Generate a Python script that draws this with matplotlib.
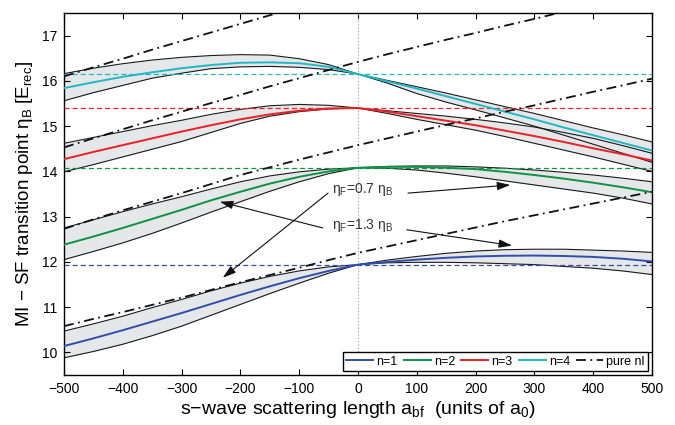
import numpy as np
import matplotlib
matplotlib.use("Agg")
import matplotlib.pyplot as plt

plt.rcParams['font.family'] = ['Liberation Sans', 'DejaVu Sans']
plt.rcParams['mathtext.fontset'] = 'custom'
plt.rcParams['mathtext.rm'] = 'Liberation Sans'
plt.rcParams['mathtext.it'] = 'Liberation Sans:italic'
plt.rcParams['mathtext.bf'] = 'Liberation Sans:bold'

# ---------------- data ----------------
a_bf = [-500, -450, -400, -350, -300, -250, -200, -150, -100, -50, 0,
        50, 100, 150, 200, 250, 300, 350, 400, 450, 500]

n1_mid = [10.14, 10.31, 10.49, 10.68, 10.87, 11.07, 11.27, 11.46, 11.64, 11.80, 11.94,
          12.00, 12.05, 12.09, 12.12, 12.135, 12.14, 12.13, 12.11, 12.07, 12.01]
n1_hi = [10.47, 10.63, 10.80, 10.99, 11.17, 11.36, 11.53, 11.68, 11.80, 11.89, 11.94,
         12.04, 12.12, 12.19, 12.24, 12.27, 12.28, 12.28, 12.26, 12.24, 12.21]
n1_lo = [9.88, 10.02, 10.18, 10.37, 10.58, 10.82, 11.06, 11.30, 11.53, 11.75, 11.94,
         11.98, 11.99, 11.99, 11.98, 11.96, 11.94, 11.90, 11.86, 11.80, 11.72]

n2_mid = [12.38, 12.56, 12.75, 12.95, 13.15, 13.36, 13.55, 13.73, 13.88, 14.00, 14.08,
          14.10, 14.10, 14.08, 14.05, 13.99, 13.92, 13.84, 13.75, 13.65, 13.54]
n2_hi = [12.75, 12.93, 13.11, 13.28, 13.44, 13.61, 13.77, 13.90, 13.99, 14.05, 14.08,
         14.11, 14.12, 14.12, 14.10, 14.07, 14.03, 13.98, 13.92, 13.85, 13.77]
n2_lo = [12.05, 12.23, 12.42, 12.63, 12.86, 13.10, 13.33, 13.56, 13.77, 13.95, 14.08,
         14.07, 14.03, 13.96, 13.88, 13.79, 13.70, 13.61, 13.52, 13.41, 13.28]

n3_mid = [14.27, 14.43, 14.58, 14.73, 14.88, 15.02, 15.15, 15.26, 15.34, 15.39, 15.40,
          15.32, 15.22, 15.12, 15.02, 14.90, 14.78, 14.65, 14.51, 14.38, 14.24]
n3_hi = [14.62, 14.75, 14.88, 15.01, 15.13, 15.26, 15.37, 15.45, 15.48, 15.46, 15.40,
         15.34, 15.28, 15.22, 15.15, 15.07, 14.98, 14.86, 14.73, 14.57, 14.40]
n3_lo = [13.99, 14.15, 14.32, 14.49, 14.66, 14.86, 15.06, 15.22, 15.32, 15.38, 15.40,
         15.28, 15.15, 15.03, 14.91, 14.77, 14.62, 14.47, 14.32, 14.16, 14.00]

n4_mid = [15.84, 15.97, 16.09, 16.19, 16.28, 16.35, 16.40, 16.41, 16.39, 16.31, 16.15,
          15.99, 15.83, 15.66, 15.49, 15.32, 15.15, 14.97, 14.80, 14.63, 14.46]
n4_hi = [16.16, 16.28, 16.38, 16.46, 16.52, 16.56, 16.58, 16.57, 16.49, 16.36, 16.15,
         16.01, 15.87, 15.73, 15.58, 15.43, 15.28, 15.12, 14.96, 14.81, 14.65]
n4_lo = [15.56, 15.74, 15.90, 16.06, 16.17, 16.27, 16.31, 16.32, 16.30, 16.25, 16.15,
         15.95, 15.72, 15.53, 15.36, 15.18, 15.00, 14.80, 14.60, 14.40, 14.20]

nan = float('nan')
nl1 = [10.58, 10.74, 10.89, 11.05, 11.21, 11.38, 11.55, 11.71, 11.87, 12.04, 12.20,
       12.34, 12.48, 12.62, 12.76, 12.90, 13.03, 13.16, 13.29, 13.42, 13.55]
nl2 = [12.73, 12.94, 13.14, 13.33, 13.52, 13.72, 13.92, 14.09, 14.26, 14.42, 14.58,
       14.73, 14.88, 15.03, 15.17, 15.32, 15.46, 15.61, 15.76, 15.90, 16.05]
nl3 = [14.53, 14.73, 14.93, 15.13, 15.32, 15.51, 15.69, 15.88, 16.06, 16.24, 16.42,
       16.59, 16.75, 16.91, 17.06, 17.22, 17.37, 17.53, nan, nan, nan]
nl4 = [16.10, 16.30, 16.49, 16.69, 16.88, 17.07, 17.26, 17.45, 17.64, nan, nan,
       nan, nan, nan, nan, nan, nan, nan, nan, nan, nan]

levels_at_zero = [11.94, 14.08, 15.40, 16.15]
labels = ['n=1', 'n=2', 'n=3', 'n=4']
colors = ['#2f4fae', '#0c9444', '#ec2026', '#1fb9c6']

x_ticks = [-500, -400, -300, -200, -100, 0, 100, 200, 300, 400, 500]
y_ticks = [10, 11, 12, 13, 14, 15, 16, 17]

# ---------------- figure ----------------
fig = plt.figure(figsize=(6.75, 4.25), dpi=100)
ax = fig.add_axes([0.0948, 0.1176, 0.8712, 0.8518])

mids = [n1_mid, n2_mid, n3_mid, n4_mid]
his = [n1_hi, n2_hi, n3_hi, n4_hi]
los = [n1_lo, n2_lo, n3_lo, n4_lo]
nls = [nl1, nl2, nl3, nl4]

for hi, lo in zip(his, los):
    ax.fill_between(a_bf, lo, hi, color='#e6e7e8', lw=0, zorder=1)
for hi, lo in zip(his, los):
    ax.plot(a_bf, hi, color='#1a1a1a', lw=0.8, zorder=2)
    ax.plot(a_bf, lo, color='#1a1a1a', lw=0.8, zorder=2)

for lev, c in zip(levels_at_zero, colors):
    ax.axhline(lev, color=c, lw=0.9, ls=(0, (4, 2.5)), zorder=3)

ax.axvline(0, color='#999999', lw=0.8, ls=(0, (1, 2)), zorder=3)

for m, c, lab in zip(mids, colors, labels):
    ax.plot(a_bf, m, color=c, lw=1.4, zorder=4, label=lab)

for k, nl in enumerate(nls):
    ax.plot(a_bf, nl, color='#111111', lw=1.3, ls=(0, (5.5, 2.5, 1, 2.5)), zorder=5,
            label='pure nl' if k == 0 else None)

# annotations
tkw = dict(fontsize=10, color='#333333', ha='center', va='center', zorder=6)
ax.text(8, 13.59, 'η$_\\mathrm{F}$=0.7 η$_\\mathrm{B}$', **tkw)
ax.text(8, 12.80, 'η$_\\mathrm{F}$=1.3 η$_\\mathrm{B}$', **tkw)
akw = dict(arrowstyle='-|>,head_length=0.8,head_width=0.25', color='#111111', lw=0.8,
           shrinkA=0, shrinkB=0)
ax.annotate('', xy=(-230, 11.65), xytext=(-51, 13.52), arrowprops=akw, zorder=6)
ax.annotate('', xy=(259, 13.70), xytext=(85, 13.52), arrowprops=akw, zorder=6)
ax.annotate('', xy=(-235, 13.33), xytext=(-60, 12.75), arrowprops=akw, zorder=6)
ax.annotate('', xy=(262, 12.36), xytext=(83, 12.71), arrowprops=akw, zorder=6)

ax.set_xlim(-500, 500)
ax.set_ylim(9.5, 17.5)
ax.set_xticks(x_ticks)
ax.set_yticks(y_ticks)
ax.tick_params(direction='in', top=True, right=True, length=4, width=0.8,
               labelsize=10, pad=5)
for s in ax.spines.values():
    s.set_linewidth(1.0)

ax.set_xlabel('s\u2212wave scattering length a$_\\mathrm{bf}$  (units of a$_\\mathrm{0}$)',
              fontsize=14, labelpad=2)
ax.set_ylabel('MI \u2212 SF transition point η$_\\mathrm{B}$ [E$_\\mathrm{rec}$]',
              fontsize=13.5, labelpad=5)

leg = ax.legend(loc='lower right', ncol=5, fontsize=9, handlelength=2.15,
                handletextpad=0.25, columnspacing=0.5, borderpad=0.3,
                borderaxespad=0.3, fancybox=False, framealpha=1,
                edgecolor='black')
leg.get_frame().set_linewidth(1.0)
leg.set_zorder(10)

fig.savefig('out.png', dpi=100)
